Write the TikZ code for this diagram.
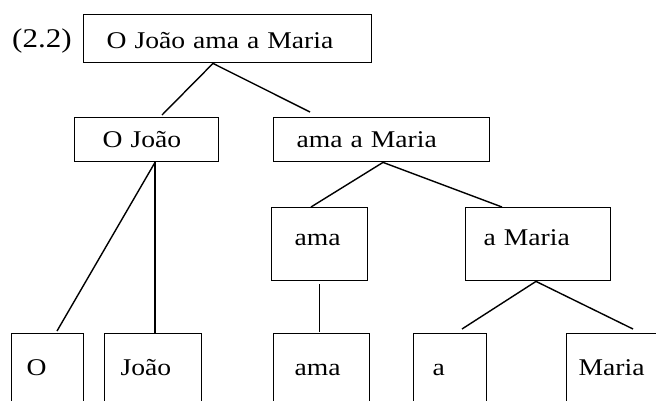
\documentclass[tikz,border=0pt]{standalone}
\usepackage{fontspec}
\setmainfont{Liberation Serif}[FakeStretch=1.15]
\usepackage{tikz}
\usetikzlibrary{calc}

\begin{document}
\begin{tikzpicture}
    [x=1pt, y=-1pt,
     every node/.style={font=\fontsize{24}{28}\selectfont},
     treebox/.style n args={4}{draw, line width=1.4pt, anchor=north west,
        align=left, inner ysep=0pt, inner xsep=#2pt,
        text width=#1pt, text height=#3pt, text depth=#4pt},
     branch/.style={line width=1.4pt}]
    \clip (0,0) rectangle (656,400);
    % example number
    \node[anchor=base west, inner sep=0pt, font=\fontsize{27}{32}\selectfont]
        (num) at (12,47) {(2.2)};
    % boxes
    \node[treebox={242}{23}{34}{14}] (root) at (83,14) {O João ama a Maria};
    \node[treebox={88}{28}{30}{14}] (oj) at (74,117) {O João};
    \node[treebox={170}{23}{30}{14}] (amr) at (273,117) {ama a Maria};
    \node[treebox={50}{23}{38}{35}] (ama) at (271,207) {ama};
    \node[treebox={109}{18}{38}{35}] (am) at (465,207) {a Maria};
    \node[treebox={42}{15}{42}{45}] (o) at (11,333) {O};
    \node[treebox={65}{16}{42}{45}] (joao) at (104,333) {João};
    \node[treebox={54}{21}{42}{45}] (amaw) at (273,333) {ama};
    \node[treebox={35}{19}{42}{45}] (a) at (413,333) {a};
    \node[treebox={100}{12}{42}{45}] (maria) at (566,333) {Maria};
    % branches
    \draw[branch] ($(root.south west)+(130,0)$) -- ($(oj.north west)+(88,-2)$);
    \draw[branch] ($(root.south west)+(130,0)$) -- ($(amr.north west)+(37,-5)$);
    \draw[branch] ($(oj.south west)+(81,0)$) -- ($(o.north west)+(46,-2)$);
    \draw[branch] ($(oj.south west)+(81,0)$) -- ($(joao.north west)+(51,0)$);
    \draw[branch] ($(amr.south west)+(110,0)$) -- ($(ama.north west)+(40,0)$);
    \draw[branch] ($(amr.south west)+(110,0)$) -- ($(am.north west)+(37,0)$);
    \draw[branch] ($(ama.south)+(0,3)$) -- ($(ama.south |- amaw.north)+(0,-1)$);
    \draw[branch] ($(am.south west)+(71,0)$) -- ($(a.north west)+(49,-4)$);
    \draw[branch] ($(am.south west)+(71,0)$) -- ($(maria.north west)+(67,-4)$);
\end{tikzpicture}
\end{document}
